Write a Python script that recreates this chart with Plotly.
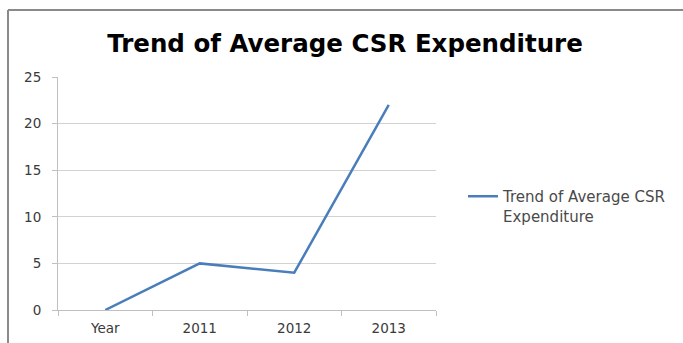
import plotly.graph_objects as go

# Data
categories = ["Year", "2011", "2012", "2013"]
avg_csr_expenditure = [0, 5, 4, 22]
series_name = "Trend of Average CSR<br>Expenditure"
chart_title = "Trend of Average CSR Expenditure"
y_ticks = [0, 5, 10, 15, 20, 25]

W, H = 683, 343
L, R, T, B = 58, 247, 77, 33
plot_w = W - L - R
plot_h = H - T - B

def px_to_paper_x(px):
    return (px - L) / plot_w

def px_to_paper_y(py):
    return (H - B - py) / plot_h

FONT = "'DejaVu Sans', sans-serif"

fig = go.Figure()
fig.add_trace(go.Scatter(
    x=categories,
    y=avg_csr_expenditure,
    mode="lines",
    name=series_name,
    line=dict(color="#4a7ebb", width=2.5),
    showlegend=True,
))

frame_color = "#8a8a8a"
fig.update_layout(
    width=W, height=H,
    margin=dict(l=L, r=R, t=T, b=B, autoexpand=False),
    paper_bgcolor="white",
    plot_bgcolor="white",
    font=dict(family=FONT, color="#404040", size=12),
    title=dict(
        text="<b>" + chart_title + "</b>",
        x=px_to_paper_x(345), xref="paper", xanchor="center",
        y=1 - 43 / H, yref="container", yanchor="middle",
        font=dict(size=24.5, color="#000000", family=FONT),
    ),
    xaxis=dict(
        type="category",
        range=[-0.5, 3.5],
        automargin=False,
        showgrid=False,
        showline=True, linecolor="#c0c0c0", linewidth=1,
        ticks="outside", tickson="boundaries", ticklen=5, tickcolor="#c0c0c0",
        ticklabelstandoff=6,
        tickfont=dict(size=13.5, color="#3a3a3a", family=FONT),
        zeroline=False,
    ),
    yaxis=dict(
        range=[0, 25],
        automargin=False,
        tickvals=y_ticks,
        showgrid=True, gridcolor="#d2d2d2", gridwidth=1,
        showline=True, linecolor="#c0c0c0", linewidth=1,
        ticks="outside", ticklen=5, tickcolor="#c0c0c0",
        ticklabelstandoff=8,
        tickfont=dict(size=13.5, color="#3a3a3a", family=FONT),
        zeroline=False,
    ),
    legend=dict(
        x=px_to_paper_x(463), xanchor="left",
        y=px_to_paper_y(180), yanchor="top",
        valign="top",
        font=dict(size=15, color="#4a4a4a", family=FONT),
        bgcolor="rgba(0,0,0,0)",
        itemwidth=30,
    ),
    shapes=[
        dict(type="line", xref="paper", yref="paper",
             x0=px_to_paper_x(8), x1=px_to_paper_x(W + 5),
             y0=px_to_paper_y(10), y1=px_to_paper_y(10),
             line=dict(color=frame_color, width=2)),
        dict(type="line", xref="paper", yref="paper",
             x0=px_to_paper_x(8), x1=px_to_paper_x(8),
             y0=px_to_paper_y(10), y1=px_to_paper_y(H + 5),
             line=dict(color=frame_color, width=2)),
    ],
)

fig.write_html("out.html")
